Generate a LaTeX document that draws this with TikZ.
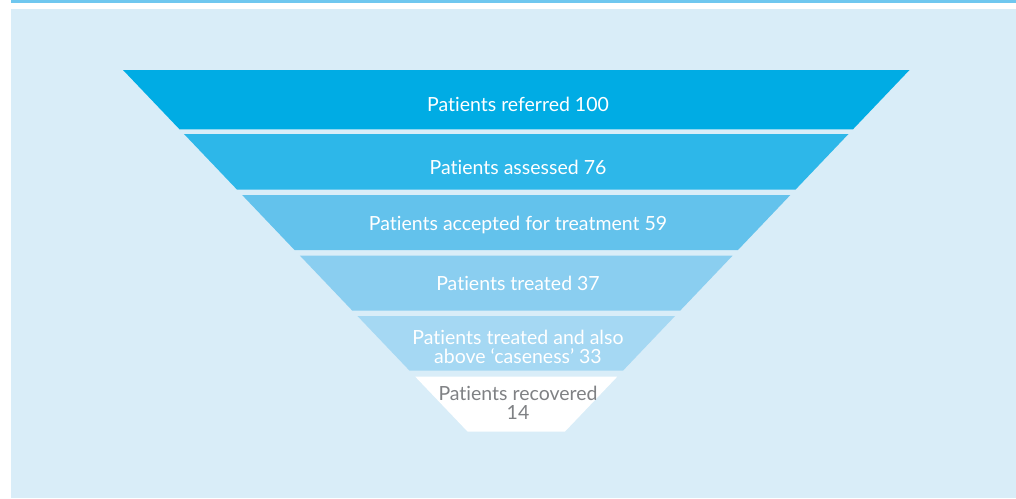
\documentclass[tikz,border=0pt]{standalone}
\usepackage{fontspec}
\setmainfont[Ligatures=NoCommon]{Lato}
\usepackage{tikz}
\usepackage{xcolor}

\definecolor{stripe}{HTML}{6FC7EF}
\definecolor{panel}{HTML}{D9EDF8}
\definecolor{layerA}{HTML}{00ACE4}
\definecolor{layerB}{HTML}{2DB7E9}
\definecolor{layerC}{HTML}{63C2EC}
\definecolor{layerD}{HTML}{8ACEF0}
\definecolor{layerE}{HTML}{A5D8F3}
\definecolor{layerF}{HTML}{FFFFFF}
\definecolor{labelgray}{HTML}{7F8184}

\tikzset{
  stage text/.style={text=white, align=center, inner sep=0pt,
    font=\fontsize{19.5}{18.5}\selectfont},
  last text/.style={stage text, text=labelgray}
}

\begin{document}
\begin{tikzpicture}[x=1pt, y=-1pt]
\useasboundingbox (0,0) rectangle (1016,498);

% Header stripe and panel
\fill[stripe] (11,0) rectangle (1016,3);
\fill[panel] (11,9) rectangle (1016,498);

% Funnel layers (slices of one triangle)
\foreach \ytop/\ybot/\col in {70/129.3/layerA, 134/189.5/layerB, 195/250/layerC,
    255.5/310.7/layerD, 316/370.7/layerE, 376.7/431.7/layerF}
  \fill[\col] ({123+0.953*(\ytop-70)},\ytop) -- ({909.5-0.953*(\ytop-70)},\ytop)
    -- ({909.5-0.953*(\ybot-70)},\ybot) -- ({123+0.953*(\ybot-70)},\ybot) -- cycle;

% Stage labels
\node[stage text] (referred) at (518,104.5) {Patients referred 100};
\node[stage text] (assessed) at (518,167) {Patients assessed 76};
\node[stage text] (accepted) at (518,225) {Patients accepted for treatment 59};
\node[stage text] (treated) at (518,283) {Patients treated 37};
\node[stage text] (caseness) at (518,347) {Patients treated and also\\above ‘caseness’ 33};
\node[last text] (recovered) at (518,403) {Patients recovered\\14};

\end{tikzpicture}
\end{document}
